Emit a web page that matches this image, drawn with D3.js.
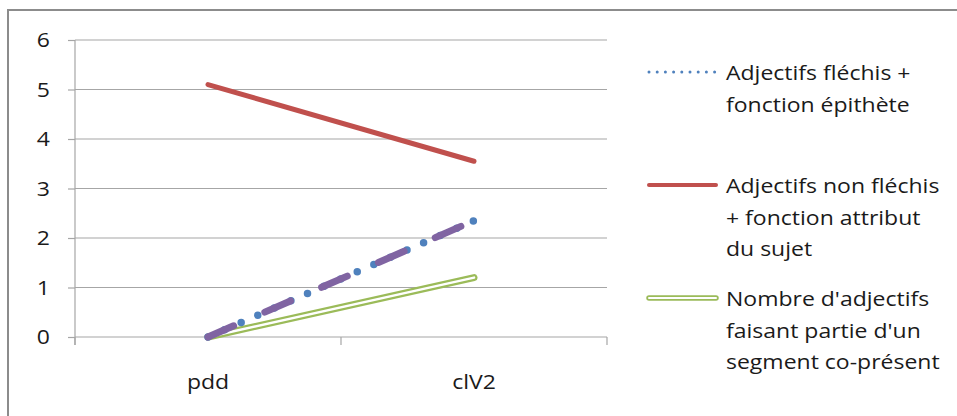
<!DOCTYPE html>
<html><head><meta charset="utf-8">
<script src="https://cdn.jsdelivr.net/npm/d3@7/dist/d3.min.js"></script>
<style>body{margin:0;background:#fff}svg{display:block}text{font-family:"Open Sans",sans-serif;fill:#1a1a1a}</style>
</head><body><svg id="c" width="957" height="416"></svg>
<script>
const categories = ["pdd", "clV2"];
const yTicks = [0, 1, 2, 3, 4, 5, 6];
const flechisEpithete = [0, 2.35];
const nonFlechisAttribut = [5.1, 3.55];
const segmentCoPresent = [0, 1.2];
const serie4 = [0, 2.35];
const legendLabels = [
  ["Adjectifs fléchis +", "fonction épithète"],
  ["Adjectifs non fléchis", "+ fonction attribut", "du sujet"],
  ["Nombre d'adjectifs", "faisant partie d'un", "segment co-présent"]
];

const svg = d3.select("#c");
const L = 75, R = 607, T = 40, B = 337;
const x = d3.scalePoint().domain(categories).range([L, R]).padding(0.5);
const y = d3.scaleLinear().domain([0, 6]).range([B, T]);
const grid = "#a6a6a6";
const FS = 20, SX = 1.15;

function label(parent, tx, ty, str, anchor) {
  parent.append("g").attr("transform", `translate(${tx},${ty}) scale(${SX},1)`)
    .append("text").attr("font-size", FS).attr("text-anchor", anchor || "start").text(str);
}

// outer frame
svg.append("rect").attr("x", 8).attr("y", 10).attr("width", 980).attr("height", 430)
  .attr("fill", "none").attr("stroke", "#8c8c8c").attr("stroke-width", 2);

// gridlines
svg.append("g").selectAll("line").data(yTicks).join("line")
  .attr("x1", L).attr("x2", R).attr("y1", d => y(d)).attr("y2", d => y(d))
  .attr("stroke", grid).attr("stroke-width", 1.2);

// y axis ticks (marks) via d3 axis, labels scaled separately
const ya = svg.append("g").attr("transform", `translate(${L},0)`)
  .call(d3.axisLeft(y).tickValues(yTicks).tickSize(7).tickFormat(""));
ya.select(".domain").remove();
ya.selectAll("line").attr("stroke", grid).attr("stroke-width", 1.2);
const yl = svg.append("g");
yTicks.forEach(d => label(yl, 50, y(d) + 7, d3.format("d")(d), "end"));
svg.append("line").attr("x1", L).attr("x2", L).attr("y1", T).attr("y2", B + 8)
  .attr("stroke", grid).attr("stroke-width", 1.2);

// x axis ticks at category boundaries
const step = x.step();
const bounds = [L, ...categories.map(c => x(c) + step / 2)];
svg.append("g").selectAll("line").data(bounds).join("line")
  .attr("x1", d => d).attr("x2", d => d).attr("y1", B).attr("y2", B + 8)
  .attr("stroke", grid).attr("stroke-width", 1.2);
const xl = svg.append("g");
categories.forEach(c => label(xl, x(c), 389, c, "middle"));

const line = d3.line().x((d, i) => x(categories[i])).y(d => y(d));

// series
svg.append("path").datum(nonFlechisAttribut).attr("d", line).attr("fill", "none")
  .attr("stroke", "#c0504d").attr("stroke-width", 5).attr("stroke-linecap", "round");
svg.append("path").datum(segmentCoPresent).attr("d", line).attr("fill", "none")
  .attr("stroke", "#9bbb59").attr("stroke-width", 7).attr("stroke-linecap", "round");
svg.append("path").datum(segmentCoPresent).attr("d", line).attr("fill", "none")
  .attr("stroke", "#fff").attr("stroke-width", 2.5).attr("stroke-linecap", "round");
svg.append("path").datum(flechisEpithete).attr("d", line).attr("fill", "none")
  .attr("stroke", "#4f81bd").attr("stroke-width", 7.5).attr("stroke-linecap", "round")
  .attr("stroke-dasharray", "0 18.1");
svg.append("path").datum(serie4).attr("d", line).attr("fill", "none")
  .attr("stroke", "#8064a2").attr("stroke-width", 7).attr("stroke-linecap", "round")
  .attr("stroke-dasharray", "28 34");

// legend
const lx1 = 649, lx2 = 716, tx = 726;
const lg = svg.append("g");
lg.append("line").attr("x1", lx1).attr("x2", lx2).attr("y1", 72).attr("y2", 72)
  .attr("stroke", "#4f81bd").attr("stroke-width", 3).attr("stroke-linecap", "round").attr("stroke-dasharray", "0 8.2");
lg.append("line").attr("x1", lx1).attr("x2", lx2).attr("y1", 185).attr("y2", 185)
  .attr("stroke", "#c0504d").attr("stroke-width", 4).attr("stroke-linecap", "round");
lg.append("line").attr("x1", lx1).attr("x2", lx2).attr("y1", 298).attr("y2", 298)
  .attr("stroke", "#9bbb59").attr("stroke-width", 5.5).attr("stroke-linecap", "round");
lg.append("line").attr("x1", lx1).attr("x2", lx2).attr("y1", 298).attr("y2", 298)
  .attr("stroke", "#fff").attr("stroke-width", 2).attr("stroke-linecap", "round");
const firstBase = [80, 193, 306];
legendLabels.forEach((lines, k) => {
  lines.forEach((t, j) => label(lg, tx, firstBase[k] + j * 31.5, t));
});
</script></body></html>
